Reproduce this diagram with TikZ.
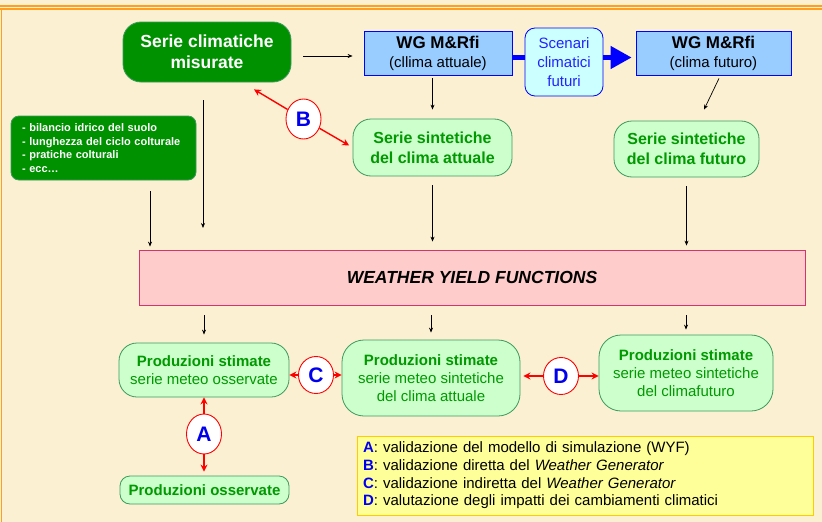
\documentclass[tikz,border=0pt]{standalone}
\usepackage{fontspec}
\setmainfont{Liberation Sans}
\usetikzlibrary{calc,arrows.meta,shapes.geometric}

\definecolor{parchment}{HTML}{FBF0D2}
\definecolor{framecol}{HTML}{FF9E1F}
\definecolor{darkgreen}{HTML}{009100}
\definecolor{paleg}{HTML}{CCFFCC}
\definecolor{edgeg}{HTML}{3C9A5C}
\definecolor{textg}{HTML}{009900}
\definecolor{wgblue}{HTML}{99CCFF}
\definecolor{pureblue}{HTML}{0000FF}
\definecolor{scenfill}{HTML}{CCFFFF}
\definecolor{scentext}{HTML}{2222FF}
\definecolor{wyfpink}{HTML}{FFCCCC}
\definecolor{wyfedge}{HTML}{D6336E}
\definecolor{legfill}{HTML}{FFFF99}
\definecolor{legedge}{HTML}{FFCC00}
\definecolor{letterblue}{HTML}{0000EE}

\tikzset{
	darkbox/.style={draw=edgeg, fill=darkgreen, text=white, line width=0.8pt, rounded corners=18pt, inner sep=0pt, align=center, font=\bfseries\fontsize{17.5}{21}\selectfont},
	wgbox/.style={draw=pureblue, fill=wgblue, line width=0.8pt, minimum height=44pt, inner sep=0pt, align=center, font=\fontsize{15}{19}\selectfont},
	scenbox/.style={draw=pureblue, fill=scenfill, text=scentext, line width=0.8pt, rounded corners=10pt, minimum width=78pt, minimum height=68pt, inner sep=0pt, align=center, font=\fontsize{15}{19}\selectfont},
	palebox/.style={draw=edgeg, fill=paleg, text=textg, line width=0.8pt, rounded corners=18pt, inner sep=0pt, align=center, font=\fontsize{15}{18}\selectfont},
	extrabox/.style={draw=edgeg, fill=darkgreen, text=white, line width=0.8pt, rounded corners=8pt, minimum width=185pt, minimum height=64pt, inner xsep=11pt, text width=163pt, align=left, font=\bfseries\fontsize{11}{13.5}\selectfont},
	wyfbox/.style={draw=wyfedge, fill=wyfpink, line width=0.8pt, minimum width=666pt, minimum height=55pt, inner sep=0pt, font=\bfseries\itshape\fontsize{17.5}{20}\selectfont},
	legbox/.style={draw=legedge, fill=legfill, line width=1pt, minimum height=79pt, inner xsep=6pt, text width=444pt, align=left, font=\fontsize{15}{17.7}\selectfont},
	valid/.style={ellipse, draw=red, fill=white, line width=0.9pt, minimum width=35pt, minimum height=40pt, inner sep=0pt, text=letterblue, font=\bfseries\fontsize{21}{21}\selectfont},
	conn/.style={draw=black, line width=0.7pt, -{Stealth[length=5pt,width=4pt]}},
	redarr/.style={draw=red, line width=1.4pt, -{Stealth[length=7pt,width=7pt]}},
	bluebar/.style={draw=pureblue, line width=4.5pt}
}

\begin{document}
\begin{tikzpicture}[x=1pt, y=-1pt]
			%%%%% START %%%%%
			
			\useasboundingbox (0,0) rectangle (822,522);
			\fill[parchment] (0,0) rectangle (822,522);
			\draw[framecol, line width=1.5pt] (0,6) -- (822,6);
			\draw[framecol, line width=1.5pt] (0,9) -- (822,9) (1.5,9) -- (1.5,522);
			
			\node[darkbox, minimum width=168pt, minimum height=60pt] (scm) at (207,52) {Serie climatiche\\misurate};
			\node[wgbox, minimum width=148pt] (wgnow) at (438,53) {\textbf{\fontsize{17}{19}\selectfont WG M\&Rfi}\\(cllima attuale)};
			\node[scenbox] (scen) at (564,62) {Scenari\\climatici\\futuri};
			\node[wgbox, minimum width=155pt] (wgfut) at (713.5,53) {\textbf{\fontsize{17}{19}\selectfont WG M\&Rfi}\\(clima futuro)};
			
			\node[palebox, minimum width=159pt, minimum height=57pt, font=\bfseries\fontsize{16}{20}\selectfont] (ssnow) at (432.5,147.5) {Serie sintetiche\\del clima attuale};
			\node[palebox, minimum width=145pt, minimum height=56pt, font=\bfseries\fontsize{16}{20}\selectfont] (ssfut) at (686.5,149) {Serie sintetiche\\del clima futuro};
			\node[extrabox] (fattori) at (103.5,148) {- bilancio idrico del suolo\\- lunghezza del ciclo colturale\\- pratiche colturali\\- ecc…};
			
			\node[wyfbox] (wyf) at (472,277.5) {WEATHER YIELD FUNCTIONS};
			
			\node[palebox, minimum width=170pt, minimum height=54pt] (psoss) at (204,370) {\textbf{Produzioni stimate}\\serie meteo osservate};
			\node[palebox, minimum width=178pt, minimum height=76pt, rounded corners=22pt] (psnow) at (431,378) {\textbf{Produzioni stimate}\\serie meteo sintetiche\\del clima attuale};
			\node[palebox, minimum width=174pt, minimum height=76pt, rounded corners=22pt] (psfut) at (686,373) {\textbf{Produzioni stimate}\\serie meteo sintetiche\\del climafuturo};
			\node[palebox, minimum width=169pt, minimum height=28pt, rounded corners=10pt] (pobs) at (204.5,490) {\textbf{Produzioni osservate}};
			
			\node[legbox] (legenda) at (585,475.5) {\textcolor{letterblue}{\textbf{A}}: validazione del modello di simulazione (WYF)\\
				\textcolor{letterblue}{\textbf{B}}: validazione diretta del \textit{Weather Generator}\\
				\textcolor{letterblue}{\textbf{C}}: validazione indiretta del \textit{Weather Generator}\\
				\textcolor{letterblue}{\textbf{D}}: valutazione degli impatti dei cambiamenti climatici};
			
			\node[valid] (vA) at (204,434) {A};
			\node[valid] (vB) at (303.5,119) {B};
			\node[valid, minimum height=37pt] (vC) at (316,375) {C};
			\node[valid, minimum height=37pt] (vD) at (561,376) {D};
			
			% top row
			\coordinate (barnow) at ([yshift=-4.5pt]wgnow.east);
			\draw[conn, shorten <=12pt, shorten >=11pt] ([yshift=-4pt]scm.east) -- ([yshift=-4pt]scm.east -| wgnow.west);
			\draw[bluebar] (barnow) -- (barnow -| scen.west);
			\draw[bluebar, -{Triangle[length=21pt,width=22pt]}, shorten >=4pt] (scen.east |- barnow) -- (barnow -| wgfut.west);
			\draw[conn, shorten <=3pt, shorten >=9pt] (ssnow.north |- wgnow.south) -- (ssnow.north);
			\draw[conn] ([xshift=5.5pt,yshift=-3pt]wgfut.south) -- ([xshift=17.5pt,yshift=11pt]ssfut.north);
			
			% into the yield functions
			\coordinate (scmout) at (203,100);
			\coordinate (scmend) at (203,228);
			\coordinate (fattout) at (150,191);
			\draw[conn] (scmout) -- (scmend);
			\draw[conn, shorten >=3pt] (fattout) -- (fattout |- wyf.north);
			\draw[conn, shorten <=9pt, shorten >=8pt] (ssnow.south) -- (ssnow.south |- wyf.north);
			\draw[conn, shorten <=9pt, shorten >=4pt] (ssfut.south) -- (ssfut.south |- wyf.north);
			
			% out of the yield functions
			\draw[conn, shorten <=10pt, shorten >=8pt] (psoss.north |- wyf.south) -- (psoss.north);
			\draw[conn, shorten <=10pt, shorten >=7pt] (psnow.north |- wyf.south) -- (psnow.north);
			\draw[conn, shorten <=10pt, shorten >=5pt] (psfut.north |- wyf.south) -- (psfut.north);
			
			% validations
			\coordinate (bup) at ([xshift=47pt,yshift=-7pt]scm.south);
			\draw[redarr] (vB) -- (bup);
			\draw[redarr, shorten >=4pt] (vB) -- (ssnow.west);
			\draw[redarr] (vC) -- (vC -| psoss.east);
			\draw[redarr] (vC) -- (vC -| psnow.west);
			\draw[redarr, shorten >=3pt] (vD) -- (vD -| psnow.east);
			\draw[redarr] (vD) -- (vD -| psfut.west);
			\draw[redarr] (vA) -- (vA |- psoss.south);
			\draw[redarr, shorten >=4pt] (vA) -- (vA |- pobs.north);
			
			%%%%% END %%%%%
\end{tikzpicture}
\end{document}
